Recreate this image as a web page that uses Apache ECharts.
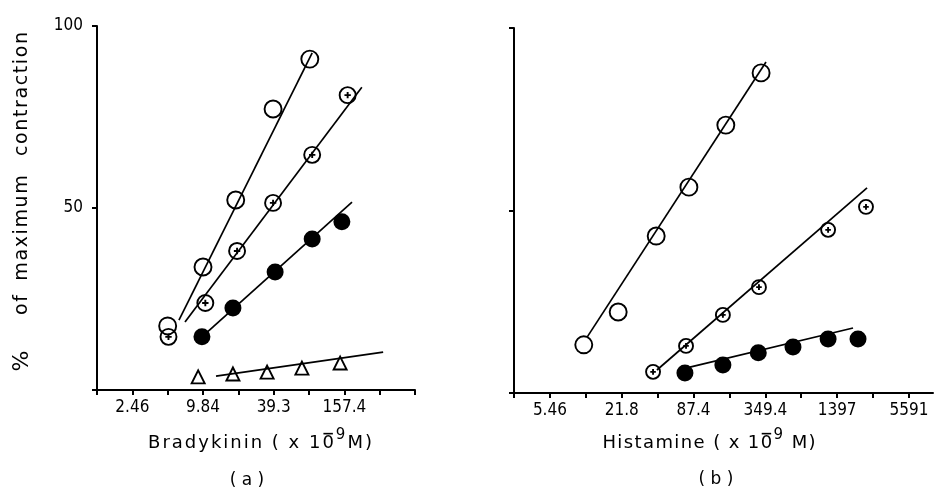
<!DOCTYPE html>
<html>
<head>
<meta charset="utf-8">
<script src="https://cdn.jsdelivr.net/npm/echarts@6/dist/echarts.min.js"></script>
<style>
  html, body { margin: 0; padding: 0; background: #fff; }
  #chart { width: 944px; height: 494px; }
</style>
</head>
<body>
<div id="chart"></div>
<script>
// (a) bradykinin, concentration x 10^-9 M, response % of maximum contraction
var brBase = 1.23   // axis origin, one doubling below 2.46
var brTicks = ['2.46', '9.84', '39.3', '157.4']
var brOpenX = [4.92, 9.84, 18.7, 38.9, 80]
var brOpenY = [17.6, 33.8, 52.2, 77.2, 90.9]
var brPlusX = [5.0, 10.3, 19.2, 38.9, 83.8, 168]
var brPlusY = [14.6, 23.9, 38.2, 51.4, 64.6, 81]
var brFillX = [9.64, 17.7, 40.5, 83.8, 150]
var brFillY = [14.6, 22.5, 32.4, 41.5, 46.2]
var brTriX = [8.95, 17.7, 34.6, 68.5, 145]
var brTriY = [3.6, 4.4, 4.9, 6.0, 7.4]
// fitted lines (end points)
var brOpenFitX = [6.14, 83.8]
var brOpenFitY = [19.2, 92.6]
var brPlusFitX = [6.91, 222]
var brPlusFitY = [18.7, 83.2]
var brFillFitX = [9.64, 183]
var brFillFitY = [14.6, 51.6]
var brTriFitX = [12.7, 337]
var brTriFitY = [3.8, 10.4]

// (b) histamine
var hiBase = 2.73
var hiTicks = ['5.46', '21.8', '87.4', '349.4', '1397', '5591']
var hiOpenX = [10.5, 20.4, 42.5, 79.9, 163, 322]
var hiOpenY = [13.2, 22.2, 43.0, 56.4, 73.4, 87.7]
var hiPlusX = [40, 75.6, 154, 309, 1174, 2440]
var hiPlusY = [5.8, 12.9, 21.4, 29.0, 44.7, 51.0]
var hiFillX = [74, 154, 305, 596, 1174, 2092]
var hiFillY = [5.5, 7.7, 11, 12.6, 14.8, 14.8]
var hiOpenFitX = [11.2, 354]
var hiOpenFitY = [15.3, 90.7]
var hiPlusFitX = [43.1, 2490]
var hiPlusFitY = [6.3, 56.2]
var hiFillFitX = [81.5, 1900]
var hiFillFitY = [7.1, 17.8]

var yTitleWords = ['%', 'of', 'maximum', 'contraction']
var yTitleSizes = [22, 19, 19, 19]
var yTitleCenters = [361, 305, 228, 94]   // screen y of each word

var tickFont = '"Liberation Sans Narrow", "DejaVu Sans Condensed", "Liberation Sans", sans-serif'
var titleFont = '"DejaVu Sans", sans-serif'
var plusSymbol = 'path://M10,0A10,10,0,1,1,10,20A10,10,0,1,1,10,0ZM10,6L10,14M6,10L14,10'

// x axes are log2 steps above the base concentration
function pts(base, xs, ys) {
  return xs.map(function (c, i) { return [Math.log2(c / base), ys[i]] })
}

var chart = echarts.init(document.getElementById('chart'))

function xAxis(idx, max, ticks, tickVals, labelVals) {
  return {
    gridIndex: idx, type: 'value', min: 0, max: max, interval: 1,
    axisLine: { show: true, onZero: false, lineStyle: { color: '#000', width: 2 } },
    axisTick: { show: true, length: 5, customValues: tickVals, lineStyle: { color: '#000', width: 2 } },
    splitLine: { show: false },
    axisLabel: {
      customValues: labelVals, margin: 9, color: '#000', fontSize: 17, fontFamily: tickFont,
      formatter: function (v) {
        var k = Math.round((v - 1) / 2)
        return ticks[k] || ''
      }
    }
  }
}
function yAxis(idx, labels) {
  return {
    gridIndex: idx, type: 'value', min: 0, max: 100, interval: 50,
    axisLine: { show: true, lineStyle: { color: '#000', width: 2 } },
    axisTick: { show: true, length: 5, lineStyle: { color: '#000', width: 2 } },
    splitLine: { show: false },
    axisLabel: {
      show: labels, margin: 14, color: '#000', fontSize: 17, fontFamily: tickFont,
      formatter: function (v) { return v === 0 ? '' : String(v) }
    }
  }
}
function fit(idx, data) {
  return {
    type: 'line', xAxisIndex: idx, yAxisIndex: idx, data: data, symbol: 'none', z: 1,
    lineStyle: { color: '#000', width: 1.7 }, silent: true
  }
}
function dots(idx, data, symbol, size, filled) {
  return {
    type: 'scatter', xAxisIndex: idx, yAxisIndex: idx, data: data, symbol: symbol, symbolSize: size, z: 3,
    itemStyle: { color: filled ? '#000' : 'rgba(0,0,0,0)', opacity: 1, borderColor: '#000', borderWidth: filled ? 0 : 1.9 },
    silent: true
  }
}

var ctx = document.createElement('canvas').getContext('2d')
function textW(s, font) { ctx.font = font; return ctx.measureText(s).width }

// letter-spaced text; parts: {t, size, dy, bar}
function spaced(cx, base, parts, track) {
  var items = [], total = 0
  parts.forEach(function (p) {
    var f = p.size + 'px ' + titleFont
    p.t.split('').forEach(function (ch) {
      var w = textW(ch, f)
      items.push({ ch: ch, f: f, w: w, dy: p.dy || 0, bar: p.bar, size: p.size })
      total += w + track
    })
  })
  total -= track
  var x = cx - total / 2, out = []
  items.forEach(function (it) {
    out.push({ type: 'text', x: x, y: base + it.dy, silent: true,
      style: { text: it.ch, font: it.f, fill: '#000', align: 'left', verticalAlign: 'bottom' } })
    if (it.bar) {
      var yb = base - it.size * 1.02
      out.push({ type: 'line', silent: true, shape: { x1: x + 1, y1: yb, x2: x + it.w - 1, y2: yb },
        style: { stroke: '#000', lineWidth: 1.6 } })
    }
    x += it.w + track
  })
  return out
}

// vertical title, one word at a time, reading bottom to top
function verticalTitle(cx, words, centers, sizes, track) {
  var out = []
  words.forEach(function (word, i) {
    var f = sizes[i] + 'px ' + titleFont
    var ws = word.split('').map(function (ch) { return textW(ch, f) })
    var len = ws.reduce(function (a, b) { return a + b }, 0) + track * (ws.length - 1)
    var y = centers[i] + len / 2
    word.split('').forEach(function (ch, j) {
      out.push({ type: 'text', x: cx, y: y, rotation: Math.PI / 2, silent: true,
        style: { text: ch, font: f, fill: '#000', align: 'left', verticalAlign: 'middle' } })
      y -= ws[j] + track
    })
  })
  return out
}

var graphics = []
  .concat(spaced(260, 452, [{ t: 'Bradykinin ( x 1', size: 18 }, { t: '0', size: 18, bar: true },
    { t: '9', size: 15, dy: -9 }, { t: 'M)', size: 18 }], 2))
  .concat(spaced(709, 452, [{ t: 'Histamine ( x 1', size: 18 }, { t: '0', size: 18, bar: true },
    { t: '9', size: 15, dy: -9 }, { t: ' M)', size: 18 }], 1.4))
  .concat(spaced(247, 489, [{ t: '( a )', size: 17 }], 0))
  .concat(spaced(716, 488, [{ t: '( b )', size: 17 }], 0))
  .concat(verticalTitle(22, yTitleWords, yTitleCenters, yTitleSizes, 1.6))

chart.setOption({
  animation: false,
  backgroundColor: '#fff',
  grid: [
    { left: 97, top: 26, width: 318, height: 364 },
    { left: 514, top: 28, width: 419, height: 365 }
  ],
  xAxis: [
    xAxis(0, 9, brTicks, [0, 1, 2, 3, 4, 5, 6, 7, 8, 9], [1, 3, 5, 7]),
    xAxis(1, 11.67, hiTicks, [0, 1, 2, 3, 4, 5, 6, 7, 8, 9, 10, 11], [1, 3, 5, 7, 9, 11])
  ],
  yAxis: [yAxis(0, true), yAxis(1, false)],
  graphic: graphics,
  series: [
    fit(0, pts(brBase, brOpenFitX, brOpenFitY)),
    fit(0, pts(brBase, brPlusFitX, brPlusFitY)),
    fit(0, pts(brBase, brFillFitX, brFillFitY)),
    fit(0, pts(brBase, brTriFitX, brTriFitY)),
    dots(0, pts(brBase, brOpenX, brOpenY), 'circle', 17, false),
    dots(0, pts(brBase, brPlusX, brPlusY), plusSymbol, 16, false),
    dots(0, pts(brBase, brFillX, brFillY), 'circle', 17, true),
    dots(0, pts(brBase, brTriX, brTriY), 'triangle', 13, false),
    fit(1, pts(hiBase, hiOpenFitX, hiOpenFitY)),
    fit(1, pts(hiBase, hiPlusFitX, hiPlusFitY)),
    fit(1, pts(hiBase, hiFillFitX, hiFillFitY)),
    dots(1, pts(hiBase, hiOpenX, hiOpenY), 'circle', 17, false),
    dots(1, pts(hiBase, hiPlusX, hiPlusY), plusSymbol, 14, false),
    dots(1, pts(hiBase, hiFillX, hiFillY), 'circle', 17, true)
  ]
})
</script>
</body>
</html>
